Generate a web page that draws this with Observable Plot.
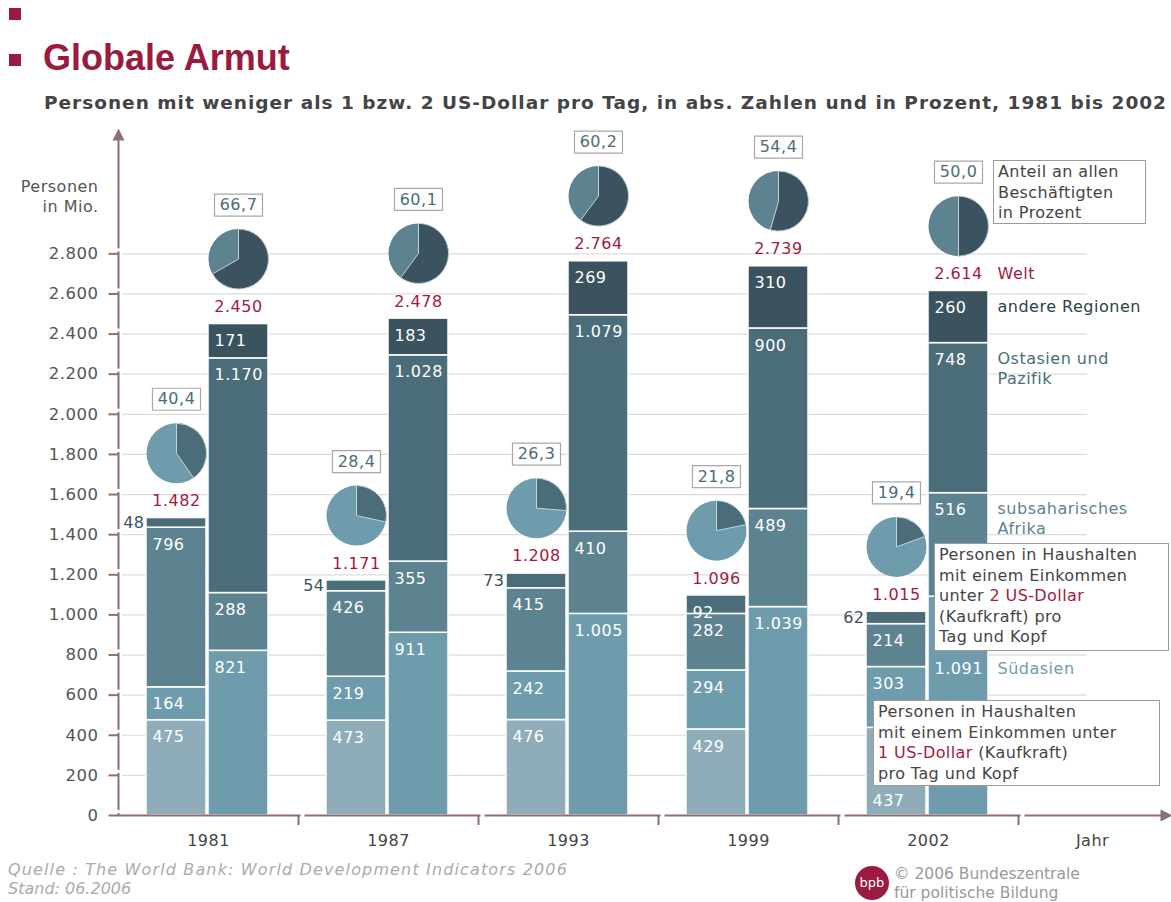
<!DOCTYPE html>
<html><head><meta charset="utf-8">
<script src="https://cdn.jsdelivr.net/npm/d3@7"></script>
<script src="https://cdn.jsdelivr.net/npm/@observablehq/plot@0.6"></script>
<style>
body{margin:0;background:#fff;}
#wrap{position:relative;width:1171px;height:902px;overflow:hidden;font-family:"DejaVu Sans",sans-serif;}
.sq{position:absolute;left:9px;width:12px;height:12px;background:#9b1b3e;}
#title{position:absolute;left:43px;top:37px;font:bold 36px "Liberation Sans",Arial,sans-serif;color:#9b1b3e;white-space:nowrap;}
#subtitle{position:absolute;left:44px;top:92px;font-weight:bold;font-size:18.5px;color:#444;white-space:nowrap;}
#chart{position:absolute;left:0;top:120px;}
.box{position:absolute;background:#fff;border:1px solid #9a9a9a;font-size:16px;line-height:20.5px;color:#444;padding:1px 4px;box-sizing:border-box;white-space:nowrap;letter-spacing:0.4px;}
.red{color:#a31a40;}
.foot{position:absolute;font-style:italic;font-size:16px;color:#aaa;white-space:nowrap;}
#logo{position:absolute;left:855px;top:866px;width:34px;height:34px;border-radius:50%;background:#9b1b3e;color:#fff;font-size:13px;line-height:34px;text-align:center;}
.cr{position:absolute;left:894px;font-size:15.5px;color:#999;white-space:nowrap;}
</style></head>
<body>
<div id="wrap">
  <div class="sq" style="top:8px"></div>
  <div class="sq" style="top:54px"></div>
  <div id="title">Globale Armut</div>
  <div id="subtitle">Personen mit weniger als 1 bzw. 2 US-Dollar pro Tag, in abs. Zahlen und in Prozent, 1981 bis 2002</div>
  <div id="chart"></div>
  <div class="box" style="left:993px;top:160px;width:153px;height:64px;">Anteil an allen<br>Beschäftigten<br>in Prozent</div>
  <div class="box" style="left:934px;top:543px;width:235px;height:108px;">Personen in Haushalten<br>mit einem Einkommen<br>unter <span class="red">2 US-Dollar</span><br>(Kaufkraft) pro<br>Tag und Kopf</div>
  <div class="box" style="left:873px;top:700px;width:287px;height:86px;">Personen in Haushalten<br>mit einem Einkommen unter<br><span class="red">1 US-Dollar</span> (Kaufkraft)<br>pro Tag und Kopf</div>
  <div class="foot" id="src" style="left:8px;top:860px;">Quelle : The World Bank: World Development Indicators 2006</div>
  <div class="foot" style="left:8px;top:879px;">Stand: 06.2006</div>
  <div id="logo">bpb</div>
  <div class="cr" style="top:865px;">© 2006 Bundeszentrale</div>
  <div class="cr" style="top:884px;">für politische Bildung</div>
</div>
<script>
// ---------- data ----------
const years = ["1981", "1987", "1993", "1999", "2002"];
const regions = ["Südasien", "subsaharisches Afrika", "Ostasien und Pazifik", "andere Regionen"];
const regionLabels = ["Südasien", "subsaharisches\nAfrika", "Ostasien und\nPazifik", "andere Regionen"];
// under 1 US-Dollar
const southAsia1 = [475, 473, 476, 429, 437];
const africa1 = [164, 219, 242, 294, 303];
const eastAsia1 = [796, 426, 415, 282, 214];
const other1 = [48, 54, 73, 92, 62];
const total1 = [1482, 1171, 1208, 1096, 1015];
const share1 = [40.4, 28.4, 26.3, 21.8, 19.4];
// under 2 US-Dollar
const southAsia2 = [821, 911, 1005, 1039, 1091];
const africa2 = [288, 355, 410, 489, 516];
const eastAsia2 = [1170, 1028, 1079, 900, 748];
const other2 = [171, 183, 269, 310, 260];
const total2 = [2450, 2478, 2764, 2739, 2614];
const share2 = [66.7, 60.1, 60.2, 54.4, 50.0];
// axis ticks
const yTicks = [0, 200, 400, 600, 800, 1000, 1200, 1400, 1600, 1800, 2000, 2200, 2400, 2600, 2800];

// ---------- styling ----------
const colors1 = ["#8fadb9", "#6e9cad", "#5d8391", "#4b6c79"];
const colors2 = ["#6e9cad", "#5d8391", "#4b6c79", "#3b535f"];
const pie1 = {light: "#6e9cad", dark: "#4b6c79"};
const pie2 = {light: "#5d8391", dark: "#3b535f"};
const regionColors = ["#6e9cad", "#5d8391", "#4b6c79", "#2e3f47"];
const mauve = "#8d6e76", red = "#a31a40";

const de = d3.formatLocale({decimal: ",", thousands: ".", grouping: [3], currency: ["", ""]});
const fmtInt = de.format(",d"), fmtPct = de.format(".1f");

const series1 = [southAsia1, africa1, eastAsia1, other1];
const series2 = [southAsia2, africa2, eastAsia2, other2];
const rows = (series, colors) => years.flatMap((year, i) =>
  series.map((arr, k) => ({year, region: regions[k], k, value: arr[i], fill: colors[k]})));
const rows1 = rows(series1, colors1);
const rows2 = rows(series2, colors2);
const pies1 = years.map((year, i) => ({year, total: total1[i], share: share1[i]}));
const pies2 = years.map((year, i) => ({year, total: total2[i], share: share2[i]}));

// layout
const xRange = [118, 1018];
const bw = (xRange[1] - xRange[0]) / years.length;
const in1 = {insetLeft: 28, insetRight: 92}, in2 = {insetLeft: 90, insetRight: 30};
const c1 = -32, c2 = 30; // bar centre offsets

// custom symbols
const wedge = f => ({draw(ctx, size) {
  const r = Math.sqrt(size / Math.PI);
  ctx.moveTo(0, 0); ctx.lineTo(0, -r);
  ctx.arc(0, 0, r, -Math.PI / 2, -Math.PI / 2 + 2 * Math.PI * f);
  ctx.closePath();
}});
const boxSym = {draw(ctx) { ctx.rect(-24, -11, 48, 22); }};
const stub = {draw(ctx) { ctx.moveTo(-10, 0); ctx.lineTo(0, 0); }};
const gapV = {draw(ctx) { ctx.rect(-3, -1.5, 6, 3); }};
const gapH = {draw(ctx) { ctx.rect(-2, -3, 4, 6); }};
const arrowUp = {draw(ctx) { ctx.moveTo(0, -7); ctx.lineTo(6, 5); ctx.lineTo(-6, 5); ctx.closePath(); }};
const arrowRight = {draw(ctx) { ctx.moveTo(7, 0); ctx.lineTo(-5, 6); ctx.lineTo(-5, -6); ctx.closePath(); }};

const isSA2002 = d => d.year === "2002" && d.k === 0;

const pieMarks = (pies, col, dx) => [
  Plot.dot(pies, {x: "year", y: "total", dx, dy: -65, r: 30, fill: col.light}),
  ...pies.map(p => Plot.dot([p], {x: "year", y: "total", dx, dy: -65, r: 30, symbol: wedge(p.share / 100),
    fill: col.dark, stroke: "#c6d3d7", strokeWidth: 1})),
  Plot.dot(pies, {x: "year", y: "total", dx, dy: -119, symbol: boxSym, fill: "white", stroke: "#a8a8a8", strokeWidth: 1.2}),
  Plot.text(pies, {x: "year", y: "total", dx, dy: -119, text: d => fmtPct(d.share), fill: "#4b6c79"})
];

const chart = Plot.plot({
  width: 1171, height: 740,
  marginLeft: 118, marginRight: 6, marginTop: 15, marginBottom: 45,
  style: {fontFamily: '"DejaVu Sans", sans-serif', fontSize: "16px", background: "transparent", overflow: "visible", letterSpacing: "0.5px"},
  x: {type: "band", domain: years, range: xRange, padding: 0, axis: null},
  y: {domain: [0, 3390], axis: null},
  marks: [
    // grid
    Plot.ruleY(yTicks.slice(1), {y: d => d, stroke: "#dcdcdc", strokeWidth: 1.2, insetLeft: 4, insetRight: 78}),
    // bars
    Plot.barY(rows1, {x: "year", y: "value", fill: "fill", stroke: "white", strokeWidth: 1.5, ...in1}),
    Plot.barY(rows2, {x: "year", y: "value", fill: "fill", stroke: "white", strokeWidth: 1.5, ...in2}),
    // segment labels
    Plot.text(rows1, Plot.stackY2({x: "year", y: "value", text: d => d.value >= 80 && !isSA2002(d) ? fmtInt(d.value) : null,
      fill: "white", textAnchor: "start", dx: -56, dy: 17})),
    Plot.text(rows2, Plot.stackY2({x: "year", y: "value", text: d => !isSA2002(d) ? fmtInt(d.value) : null,
      fill: "white", textAnchor: "start", dx: 6, dy: 17})),
    Plot.text(rows1, Plot.stackY({x: "year", y: "value", text: d => d.value < 80 ? fmtInt(d.value) : null,
      fill: "#3b535f", textAnchor: "end", dx: -64})),
    // 2002 Südasien labels moved clear of the annotation boxes
    Plot.text(rows1.filter(isSA2002), {x: "year", y: () => 0, text: d => fmtInt(d.value), fill: "white", textAnchor: "start", dx: -56, dy: -15}),
    Plot.text(rows2.filter(isSA2002), {x: "year", y: "value", text: d => fmtInt(d.value), fill: "white", textAnchor: "start", dx: 6, dy: 72}),
    // totals
    Plot.text(pies1, {x: "year", y: "total", text: d => fmtInt(d.total), fill: red, dx: c1, dy: -17}),
    Plot.text(pies2, {x: "year", y: "total", text: d => fmtInt(d.total), fill: red, dx: c2, dy: -17}),
    // pies
    ...pieMarks(pies1, pie1, c1),
    ...pieMarks(pies2, pie2, c2),
    // region labels (2002, 2 US-Dollar bar)
    Plot.text(rows2.filter(d => d.year === "2002"), Plot.stackY2({x: "year", y: "value",
      text: d => d.k === 0 ? null : regionLabels[d.k], fill: d => regionColors[d.k],
      textAnchor: "start", lineAnchor: "top", lineHeight: 1.25, dx: 69, dy: 7})),
    Plot.text(rows2.filter(isSA2002), {x: "year", y: "value", text: d => regionLabels[d.k], fill: regionColors[0], textAnchor: "start", dx: 69, dy: 72}),
    Plot.text(pies2.filter(d => d.year === "2002"), {x: "year", y: "total", text: () => "Welt", fill: red, textAnchor: "start", dx: 69, dy: -17}),
    // y axis
    Plot.ruleX([years[0]], {dx: -bw / 2, stroke: mauve, strokeWidth: 2}),
    Plot.dot(yTicks, {y: d => d, frameAnchor: "left", symbol: gapV, fill: "white", dy: -4}),
    Plot.dot(yTicks, {y: d => d, frameAnchor: "left", symbol: stub, fill: "none", stroke: mauve, strokeWidth: 2}),
    Plot.text(yTicks, {y: d => d, frameAnchor: "left", text: d => fmtInt(d), textAnchor: "end", lineAnchor: "middle", dx: -20, fill: "#555", fontSize: 16.5}),
    Plot.dot([0], {frameAnchor: "top-left", symbol: arrowUp, fill: mauve, stroke: "none"}),
    Plot.text(["Personen\nin Mio."], {frameAnchor: "top-left", textAnchor: "end", lineAnchor: "middle", lineHeight: 1.25, dx: -20, dy: 60, fill: "#555"}),
    // x axis
    Plot.ruleY([0], {stroke: mauve, strokeWidth: 2}),
    Plot.dot(years, {x: d => d, y: () => 0, dx: bw / 2 + 4, symbol: gapH, fill: "white"}),
    Plot.ruleX(years, {x: d => d, y1: () => 0, y2: () => 0, dx: bw / 2, insetBottom: -10, stroke: mauve, strokeWidth: 2}),
    Plot.dot([0], {frameAnchor: "bottom-right", symbol: arrowRight, fill: mauve, stroke: "none"}),
    Plot.text(years, {x: d => d, y: () => 0, text: d => d, dy: 25, fill: "#444"}),
    Plot.text(["Jahr"], {frameAnchor: "bottom-right", textAnchor: "middle", lineAnchor: "middle", dx: -73, dy: 25, fill: "#444"})
  ]
});
document.getElementById("chart").appendChild(chart);

function fit(el, target) {
  const w = el.getBoundingClientRect().width;
  const n = el.textContent.length;
  el.style.letterSpacing = ((target - w) / n) + "px";
}
fit(document.getElementById("subtitle"), 1123);
fit(document.getElementById("src"), 560);
</script>
</body></html>
